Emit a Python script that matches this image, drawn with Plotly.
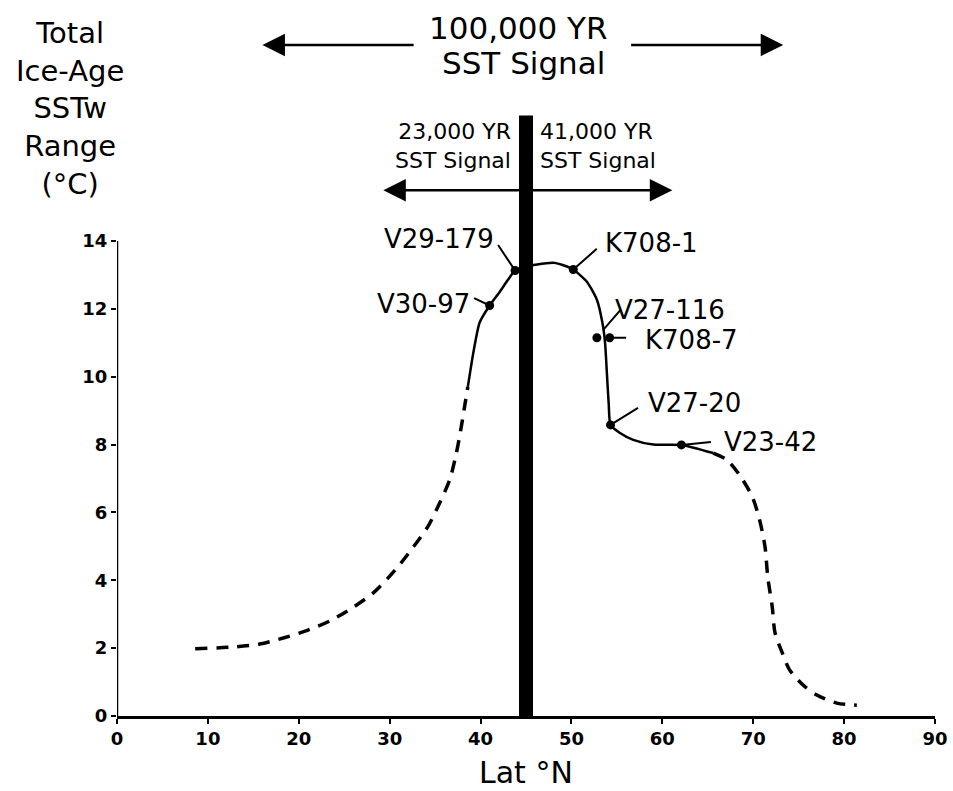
import plotly.graph_objects as go

# ---- data ----
# dashed (inferred) low-latitude limb
lat_dash_south = [8.6, 13.2, 15.7, 18.3, 20.7, 23.4, 25.9, 28.2, 30.6, 32.6, 34.2, 35.5, 36.6, 37.3, 37.8, 38.2, 38.6]
sst_dash_south = [1.98, 2.04, 2.12, 2.3, 2.5, 2.8, 3.19, 3.63, 4.3, 4.98, 5.58, 6.28, 6.96, 7.7, 8.4, 9.05, 9.7]

# solid (core-constrained) part
lat_solid = [38.6, 39.2, 39.9, 41.0, 42.1, 43.0, 43.8, 45.0, 46.0, 48.0, 49.5, 50.2, 51.7, 52.8, 53.4, 53.7, 53.9, 54.1, 54.3, 55.3, 56.8, 59.0, 62.1, 65.6]
sst_solid = [9.7, 10.7, 11.6, 12.1, 12.5, 12.85, 13.13, 13.25, 13.3, 13.36, 13.25, 13.16, 12.8, 12.27, 11.6, 11.0, 10.1, 9.2, 8.58, 8.35, 8.14, 8.0, 7.99, 7.75]

# dashed (inferred) high-latitude limb
lat_dash_north = [65.6, 67.1, 68.5, 69.9, 70.7, 71.3, 71.6, 72.1, 72.4, 73.2, 74.0, 75.5, 77.0, 79.2, 81.4]
sst_dash_north = [7.75, 7.55, 7.1, 6.46, 5.78, 4.98, 4.1, 3.2, 2.45, 1.86, 1.36, 0.91, 0.62, 0.38, 0.32]

# cores
core_names = ["V30-97", "V29-179", "K708-1", "V27-116", "K708-7", "V27-20", "V23-42"]
core_lat = [41.0, 43.8, 50.2, 52.8, 54.2, 54.3, 62.1]
core_sst = [12.1, 13.13, 13.16, 11.15, 11.15, 8.58, 7.99]

x_ticks = [0, 10, 20, 30, 40, 50, 60, 70, 80, 90]
y_ticks = [0, 2, 4, 6, 8, 10, 12, 14]

boundary_lat = 45.0
boundary_top = 17.7

signal_100k = {"left": 16.0, "right": 73.3, "level": 19.78}
signal_short = {"left": 29.3, "right": 61.1, "level": 15.5}

FONT = "DejaVu Sans"
BLACK = "black"

fig = go.Figure()

fig.add_trace(go.Scatter(x=lat_dash_south, y=sst_dash_south, mode="lines",
                         line=dict(color=BLACK, width=3.5, dash="12px,9px", shape="spline", smoothing=0.8),
                         hoverinfo="skip", showlegend=False))
fig.add_trace(go.Scatter(x=lat_solid, y=sst_solid, mode="lines",
                         line=dict(color=BLACK, width=2.5, shape="spline", smoothing=0.6),
                         hoverinfo="skip", showlegend=False))
fig.add_trace(go.Scatter(x=lat_dash_north, y=sst_dash_north, mode="lines",
                         line=dict(color=BLACK, width=3.5, dash="12px,9px", shape="spline", smoothing=0.8),
                         hoverinfo="skip", showlegend=False))

# thick boundary bar
fig.add_trace(go.Scatter(x=[boundary_lat, boundary_lat], y=[0, boundary_top], mode="lines",
                         line=dict(color=BLACK, width=14), cliponaxis=False,
                         hoverinfo="skip", showlegend=False))

# y axis line 0..14
fig.add_trace(go.Scatter(x=[0, 0], y=[y_ticks[0], y_ticks[-1]], mode="lines",
                         line=dict(color=BLACK, width=2.5), cliponaxis=False,
                         hoverinfo="skip", showlegend=False))

fig.add_trace(go.Scatter(x=core_lat, y=core_sst, mode="markers", text=core_names,
                         marker=dict(color=BLACK, size=9), showlegend=False))

# label placement: (leader tail dx, dy in px), (text centre dx, dy in px) relative to the point
label_layout = {
    "V30-97": ((-17, -8), (-66, -2)),
    "V29-179": ((-18, -27), (-76, -32)),
    "K708-1": ((25, -22), (78, -27)),
    "V27-116": ((19, -22), (73, -28)),
    "K708-7": ((18, 0), (82, 2)),
    "V27-20": ((29, -18), (84, -22)),
    "V23-42": ((31, -3), (89, -3)),
}
leader_from = {"V27-116": (53.5, 11.38)}

for name, lx, ly in zip(core_names, core_lat, core_sst):
    (tdx, tdy), (cdx, cdy) = label_layout[name]
    px, py = leader_from.get(name, (lx, ly))
    fig.add_annotation(x=px, y=py, ax=tdx, ay=tdy, text="", showarrow=True,
                       arrowhead=0, arrowwidth=2, arrowcolor=BLACK, standoff=0)
    fig.add_annotation(x=lx, y=ly, text=name, showarrow=False, xshift=cdx, yshift=-cdy,
                       font=dict(family=FONT, size=26, color=BLACK))

# signal arrows
for tip, tail in [(signal_100k["left"], 32.8), (signal_100k["right"], 56.4)]:
    fig.add_annotation(x=tip, y=signal_100k["level"], ax=tail, ay=signal_100k["level"],
                       axref="x", ayref="y", text="", showarrow=True,
                       arrowhead=2, arrowsize=1.8, arrowwidth=2.5, arrowcolor=BLACK)
for tip in [signal_short["left"], signal_short["right"]]:
    fig.add_annotation(x=tip, y=signal_short["level"], ax=boundary_lat, ay=signal_short["level"],
                       axref="x", ayref="y", text="", showarrow=True,
                       arrowhead=2, arrowsize=1.8, arrowwidth=2.5, arrowcolor=BLACK)

fig.add_annotation(x=44.2, y=20.28, text="100,000 YR", showarrow=False,
                   font=dict(family=FONT, size=31, color=BLACK))
fig.add_annotation(x=44.7, y=19.25, text="SST Signal", showarrow=False,
                   font=dict(family=FONT, size=31, color=BLACK))
fig.add_annotation(x=43.6, y=16.81, text="23,000 YR<br>SST Signal", showarrow=False,
                   xanchor="right", align="right",
                   font=dict(family=FONT, size=22, color=BLACK))
fig.add_annotation(x=46.3, y=16.81, text="41,000 YR<br>SST Signal", showarrow=False,
                   xanchor="left", align="left",
                   font=dict(family=FONT, size=22, color=BLACK))

# y-axis title
fig.add_annotation(xref="paper", x=-0.058, xanchor="center", y=17.9,
                   text="Total<br>Ice-Age<br>SSTw<br>Range<br>(°C)",
                   showarrow=False, align="center",
                   font=dict(family=FONT, size=29, color=BLACK))
# x-axis title
fig.add_annotation(x=45, yref="paper", y=0, yanchor="top", yshift=-37, text="Lat °N",
                   showarrow=False, font=dict(family=FONT, size=30, color=BLACK))

fig.update_layout(
    width=953, height=791, autosize=False,
    margin=dict(l=117, r=18, t=10, b=75, autoexpand=False),
    plot_bgcolor="white", paper_bgcolor="white",
    showlegend=False,
    xaxis=dict(range=[0, 90], tickvals=x_ticks, showgrid=False, zeroline=False, automargin=False,
               showline=True, linecolor=BLACK, linewidth=2.5,
               ticks="outside", ticklen=5, tickwidth=2, tickcolor=BLACK,
               tickfont=dict(family=FONT, size=18, color=BLACK, weight="bold")),
    yaxis=dict(range=[0, 20.81], tickvals=y_ticks, showgrid=False, zeroline=False, automargin=False,
               showline=False, ticks="outside", ticklen=5, tickwidth=2, tickcolor=BLACK,
               tickfont=dict(family=FONT, size=18, color=BLACK, weight="bold")),
)

# remove the default page margin so the 953x791 figure fills the window exactly
fig.write_html(
    "out.html",
    config={"displayModeBar": False, "responsive": False},
    post_script=(
        "document.body.style.margin='0px';"
        "document.body.style.overflow='hidden';"
        "var gd=document.getElementById('{plot_id}');"
        "Plotly.relayout(gd,{width:953,height:791});"
    ),
)
